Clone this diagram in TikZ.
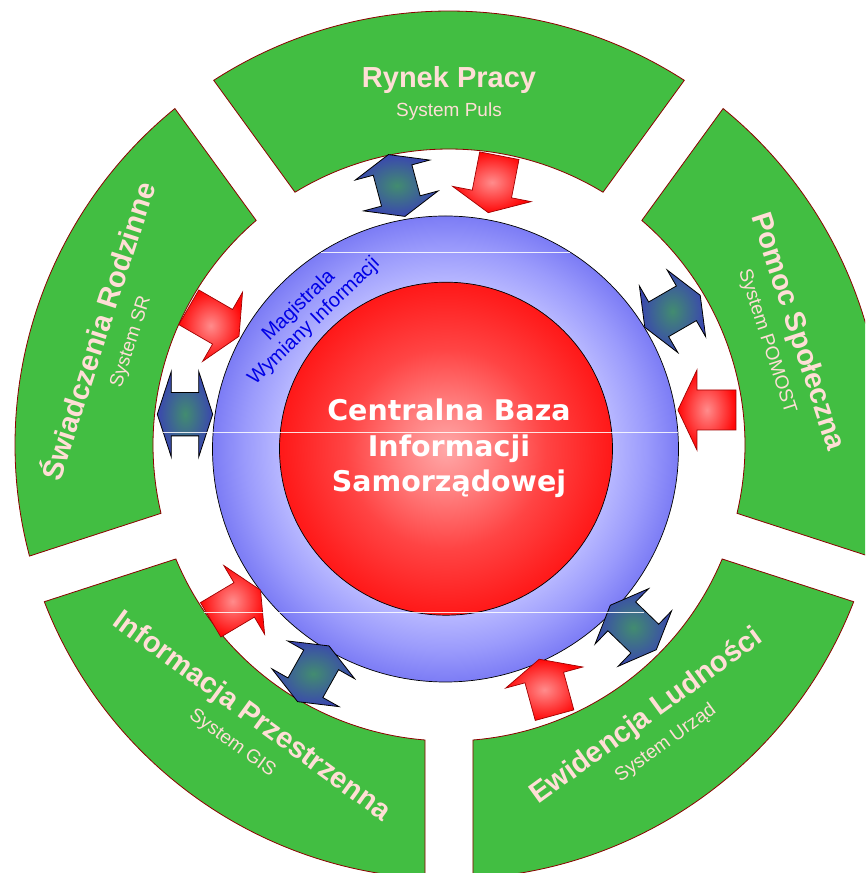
\documentclass[tikz,border=0pt]{standalone}
\usepackage{fontspec}
\setmainfont{Liberation Sans}
\newfontfamily\dejavu{DejaVu Sans}
\begin{document}
\definecolor{secgreen}{RGB}{66,190,66}
\definecolor{secborder}{RGB}{140,0,0}
\definecolor{secpink}{RGB}{255,222,214}
\definecolor{ringlight}{RGB}{182,182,255}
\definecolor{ringmid}{RGB}{155,155,252}
\definecolor{ringdark}{RGB}{124,124,245}
\definecolor{redlight}{RGB}{255,168,168}
\definecolor{redmid1}{RGB}{255,125,125}
\definecolor{redmid2}{RGB}{255,68,68}
\definecolor{reddark}{RGB}{255,24,24}
\definecolor{arrgreen}{RGB}{66,140,112}
\definecolor{arrblue}{RGB}{58,70,176}
\definecolor{magblue}{RGB}{0,0,230}
\definecolor{redarrlight}{RGB}{255,140,140}
\definecolor{redarrdark}{RGB}{255,8,8}
\definecolor{redarrborder}{RGB}{160,0,0}
\pgfdeclareradialshading{ringshade}{\pgfpoint{0bp}{0bp}}{color(0bp)=(ringlight); color(18bp)=(ringlight); color(21.5bp)=(ringmid); color(25bp)=(ringdark); color(50bp)=(ringdark)}
\pgfdeclareradialshading{redshade}{\pgfpoint{0bp}{0bp}}{color(0bp)=(redlight); color(7bp)=(redmid1); color(15bp)=(redmid2); color(25bp)=(reddark); color(50bp)=(reddark)}
\tikzset{
  sector/.style={fill=secgreen, draw=secborder, line width=0.8pt},
  titletext/.style={anchor=mid, inner sep=0pt, text=secpink, font=\bfseries\fontsize{29}{34}\selectfont},
  subtext/.style={anchor=mid, inner sep=0pt, text=secpink, font=\fontsize{19}{22}\selectfont},
  centraltext/.style={anchor=base, inner sep=0pt, text=white, font=\dejavu\bfseries\fontsize{28.5}{34}\selectfont},
  magtext/.style={align=center, inner sep=0pt, text=magblue, font=\fontsize{20}{22}\selectfont},
  redarrow/.style={draw=redarrborder, line width=0.7pt, inner color=redarrlight, outer color=redarrdark},
  dblarrow/.style={draw=black, line width=0.8pt, inner color=arrgreen, outer color=arrblue},
  artline/.style={draw=white, line width=0.9pt, opacity=0.85},
  pics/redarr/.style={code={
    \path[redarrow] (-29,-20) -- (10,-20) -- (10,-40) -- (29,0) -- (10,40) -- (10,20) -- (-29,20) -- cycle;}},
  pics/dblarr/.style n args={4}{code={
    \path[dblarrow] (-#1,0) -- (-#1+#2,#3) -- (-#1+#2,#4) -- (#1-#2,#4) -- (#1-#2,#3) -- (#1,0)
      -- (#1-#2,-#3) -- (#1-#2,-#4) -- (-#1+#2,-#4) -- (-#1+#2,-#3) -- cycle;}}
}
\begin{tikzpicture}[x=1pt,y=1pt]
\useasboundingbox (0,0) rectangle (865,873);
\clip (0,0) rectangle (865,873);
\fill[white] (0,0) rectangle (865,873);
% sectors
\begin{scope}[shift={(449,428)}]
  \draw[sector] (57.17:434) arc[start angle=57.17, end angle=122.83, radius=434]
    -- (121.35:296) arc[start angle=121.35, end angle=58.65, radius=296] -- cycle;
  \draw[sector] (-14.83:434) arc[start angle=-14.83, end angle=50.83, radius=434]
    -- (49.35:296) arc[start angle=49.35, end angle=-13.35, radius=296] -- cycle;
  \draw[sector] (-86.83:434) arc[start angle=-86.83, end angle=-21.17, radius=434]
    -- (-22.65:296) arc[start angle=-22.65, end angle=-85.35, radius=296] -- cycle;
  \draw[sector] (-158.83:434) arc[start angle=-158.83, end angle=-93.17, radius=434]
    -- (-94.65:296) arc[start angle=-94.65, end angle=-157.35, radius=296] -- cycle;
  \draw[sector] (129.17:434) arc[start angle=129.17, end angle=194.83, radius=434]
    -- (193.35:296) arc[start angle=193.35, end angle=130.65, radius=296] -- cycle;
  % sector texts
  \node[titletext] (rynekT) at (90:360) {Rynek Pracy};
  \node[subtext] (rynekS) at (90:331) {System Puls};
  \node[titletext, rotate=-72] (pomocT) at (18:361) {Pomoc Społeczna};
  \node[subtext, rotate=-72] (pomocS) at (18:332) {System POMOST};
  \node[titletext, rotate=72] (swiadT) at (162:361) {Świadczenia Rodzinne};
  \node[subtext, rotate=72] (swiadS) at (162:332) {System SR};
  \node[titletext, rotate=-36] (infoT) at (-126:341) {Informacja Przestrzenna};
  \node[subtext, rotate=-36] (infoS) at (-126:371) {System GIS};
  \node[titletext, rotate=36] (ewidT) at (-54:341) {Ewidencja Ludności};
  \node[subtext, rotate=36] (ewidS) at (-54:371) {System Urząd};
\end{scope}
% ring and core
\coordinate (B) at (445.5,424);
\draw[black, line width=0.7pt, shading=ringshade] (B) circle[radius=233];
\draw[black, line width=0.7pt, shading=redshade] (446,424.3) circle[radius=166.5];
\node[magtext, rotate=44] (mag) at (306.5,559.2) {Magistrala\\Wymiany Informacji};
\node[centraltext] (c1) at (449,452.3) {Centralna Baza};
\node[centraltext] (c2) at (449,416.3) {Informacji};
\node[centraltext] (c3) at (449,381.3) {Samorządowej};
% red arrows
\pic[rotate=180] at (706.9,463) {redarr};
\pic[rotate=-101] at (493.8,688.8) {redarr};
\pic[rotate=105.3] at (546.9,185.8) {redarr};
\pic[rotate=30.7] at (235.6,268) {redarr};
\pic[rotate=-30] at (213.9,551.2) {redarr};
% double arrows
\pic[rotate=105] at (396.7,687.5) {dblarr={32}{16}{38.5}{20}};
\pic[rotate=30] at (672.5,561.7) {dblarr={32}{16}{38.5}{20}};
\pic[rotate=-44] at (633.3,245.5) {dblarr={32}{16}{38.5}{20}};
\pic[rotate=60.6] at (313.3,199.2) {dblarr={32}{16}{38.5}{20}};
\pic at (185,458.8) {dblarr={27.7}{14}{42.8}{21.7}};
% thin light bands
\draw[artline] (321,621) -- (570,621);
\draw[artline] (163,441) -- (678,441);
\draw[artline] (204,261) -- (644,261);
\end{tikzpicture}
\end{document}
